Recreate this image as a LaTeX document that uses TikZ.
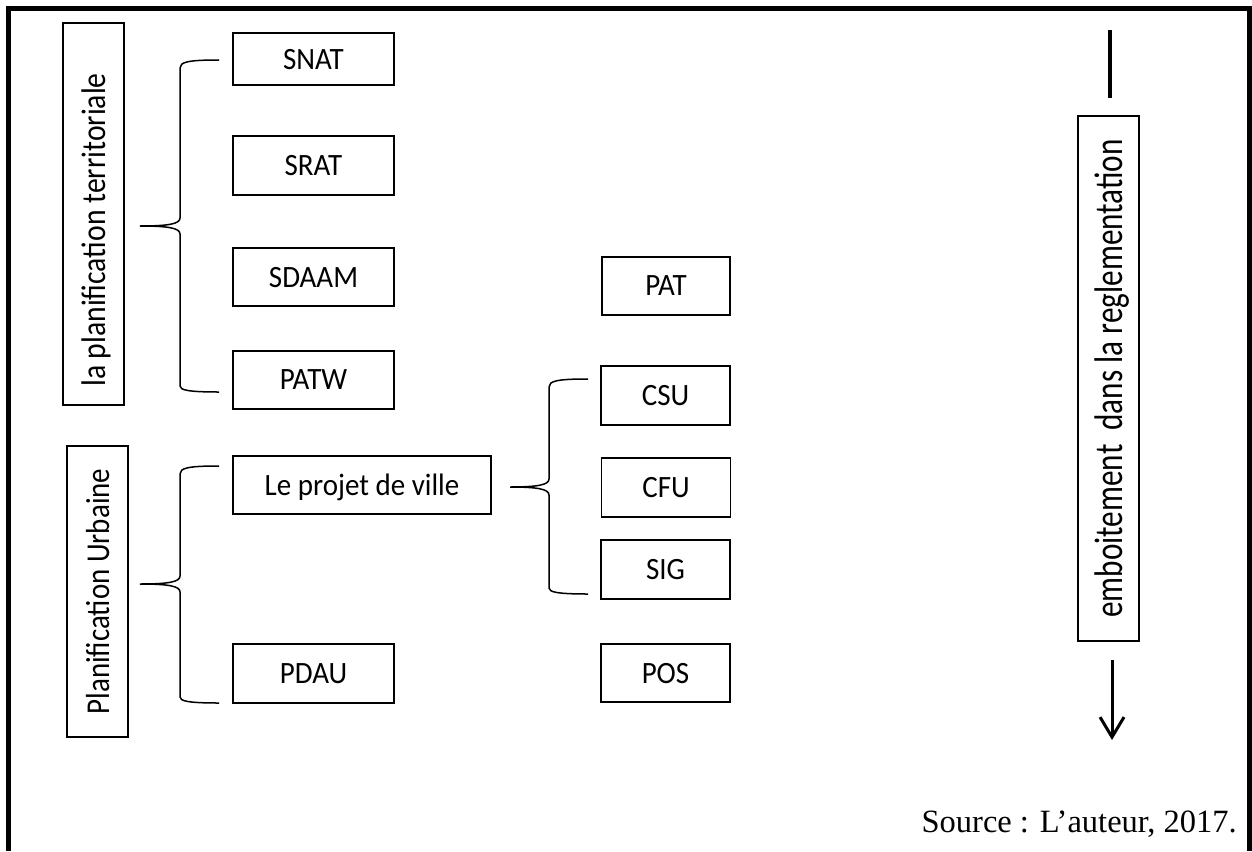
\documentclass[tikz,border=0pt]{standalone}
\usepackage{fontspec}
\setmainfont{Carlito}
\newfontfamily\srcfont{Liberation Serif}
\usetikzlibrary{arrows.meta}
\newcommand{\hstr}[1]{\scalebox{1}[1.07]{#1}}
\newcommand{\vstr}[1]{\scalebox{1}[1.15]{#1}}
\newcommand{\vstrr}[1]{\scalebox{1}[1.28]{#1}}
\begin{document}
\begin{tikzpicture}[x=1pt,y=-1pt,
  box/.style={draw, line width=1.2pt, inner sep=0pt, text depth=0pt, font=\fontsize{29}{34}\selectfont},
  vbox/.style={box, rotate=90},
  brace/.style={line width=1.5pt},
  frame/.style={line width=4.5pt},
]
\useasboundingbox (0,0) rectangle (1252,851);
\draw[frame] (8.5,851) -- (8.5,8.5) -- (1249.5,8.5) -- (1249.5,851);

% left group boxes
\node[vbox, minimum width=382, minimum height=61, font=\fontsize{29.7}{34}\selectfont] (lpt) at (93.5,214) {\vstr{la planification territoriale}\hspace*{32pt}};
\node[vbox, minimum width=291, minimum height=61] (pu) at (97.5,591.5) {\vstr{Planification Urbaine}};

\node[box, minimum width=161, minimum height=52] (snat) at (313.5,59) {\hstr{SNAT}};
\node[box, minimum width=161, minimum height=59] (srat) at (313.5,165.5) {\hstr{SRAT}};
\node[box, minimum width=161, minimum height=58] (sdaam) at (313.5,277) {\hstr{SDAAM}};
\node[box, minimum width=161, minimum height=58] (patw) at (313.5,380) {\hstr{PATW}};
\node[box, minimum width=258, minimum height=58] (projet) at (362,485) {\hstr{Le projet de ville}};
\node[box, minimum width=161, minimum height=59] (pdau) at (313.5,673.5) {\hstr{PDAU}};

\node[box, minimum width=128, minimum height=58] (pat) at (666,286) {\hstr{PAT}};
\node[box, minimum width=129, minimum height=59] (csu) at (665.5,395.5) {\hstr{CSU}};
\node[box, minimum width=129, minimum height=59] (cfu) at (666,487.5) {\hstr{CFU}};
\node[box, minimum width=129, minimum height=59] (sig) at (665.5,569.5) {\hstr{SIG}};
\node[box, minimum width=129, minimum height=58] (pos) at (665.5,673) {\hstr{POS}};

\node[vbox, minimum width=525, minimum height=61, font=\fontsize{31.2}{36}\selectfont] (emb) at (1108.5,378.5) {\vstrr{emboitement\ \ dans la reglementation}};

% braces
\coordinate (b1t) at (219,60);
\coordinate (b1m) at (140,226);
\coordinate (b1b) at (219,392);
\draw[brace] (b1t) .. controls (188,60) and (180,62) .. (180,68) -- (180,218)
  .. controls (180,224) and (168,226) .. (b1m)
  .. controls (168,226) and (180,228) .. (180,234) -- (180,386)
  .. controls (180,390) and (188,392) .. (b1b);

\coordinate (b2t) at (219,466);
\coordinate (b2m) at (140,584);
\coordinate (b2b) at (219,703);
\draw[brace] (b2t) .. controls (188,466) and (180,468) .. (180,474) -- (180,576)
  .. controls (180,582) and (168,584) .. (b2m)
  .. controls (168,584) and (180,586) .. (180,592) -- (180,697)
  .. controls (180,701) and (188,703) .. (b2b);

\coordinate (b3t) at (588,379);
\coordinate (b3m) at (510,487);
\coordinate (b3b) at (588,594);
\draw[brace] (b3t) .. controls (557,379) and (549,381) .. (549,387) -- (549,479)
  .. controls (549,485) and (537,487) .. (b3m)
  .. controls (537,487) and (549,489) .. (549,495) -- (549,588)
  .. controls (549,592) and (557,594) .. (b3b);

% right arrow
\coordinate (t1) at (1109.5,30);
\coordinate (t2) at (1109.5,98);
\draw[line width=4pt] (t1) -- (t2);
\coordinate (a1) at (1112,660);
\coordinate (a2) at (1112,740);
\draw[line width=3pt, -{Straight Barb[length=20pt,width=24pt,line width=3pt]}] (a1) -- (a2);

\node[anchor=base east, font=\srcfont\fontsize{32.5}{36}\selectfont, inner sep=0pt] (src) at (1237,832) {Source : L’auteur, 2017.};
\end{tikzpicture}
\end{document}
